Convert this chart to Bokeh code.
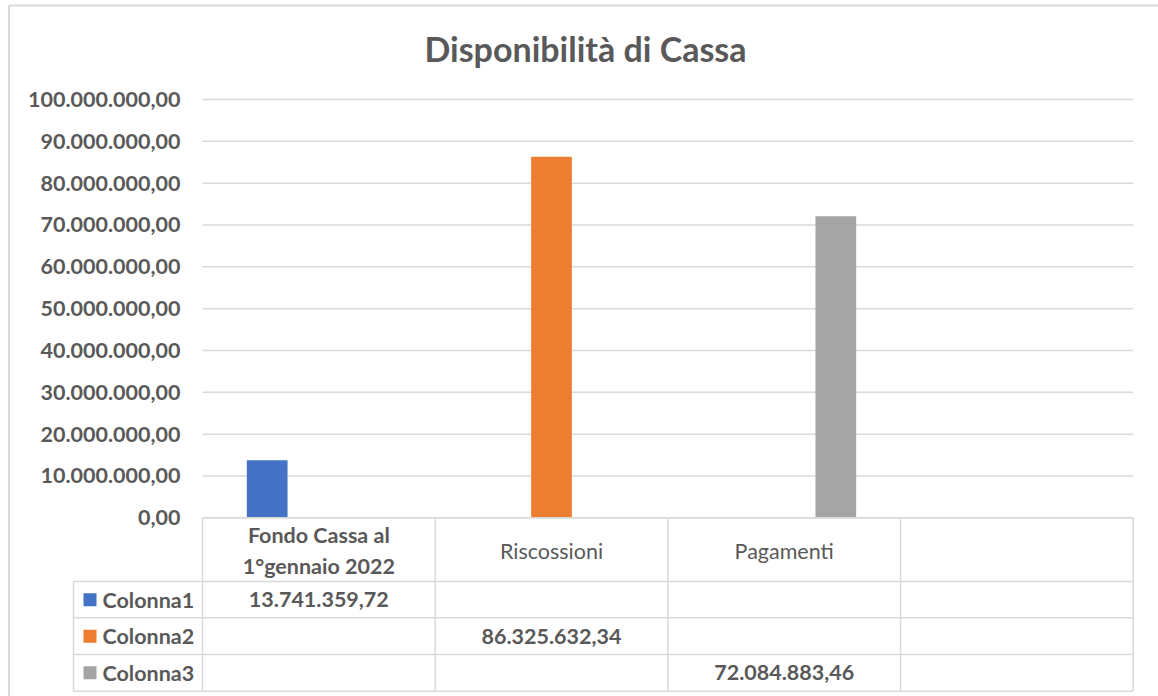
from bokeh.plotting import figure
from bokeh.models import Range1d, LinearAxis, FixedTicker, CustomJSTickFormatter, ColumnDataSource
from bokeh.core.properties import value
from bokeh.transform import dodge
from bokeh.embed import file_html
from bokeh.resources import INLINE

# ---------------- data ----------------
title_text = "Disponibilità di Cassa"
categories = ["Fondo Cassa al\n1°gennaio 2022", "Riscossioni", "Pagamenti", ""]
category_weights = ["bold", "normal", "normal", "normal"]
series_names = ["Colonna1", "Colonna2", "Colonna3"]
series_colors = ["#4472C4", "#ED7D31", "#A5A5A5"]
colonna1 = [13741359.72, None, None, None]
colonna2 = [None, 86325632.34, None, None]
colonna3 = [None, None, 72084883.46, None]
y_ticks = [0, 10e6, 20e6, 30e6, 40e6, 50e6, 60e6, 70e6, 80e6, 90e6, 100e6]

series_values = [colonna1, colonna2, colonna3]

# ---------------- layout constants (pixels) ----------------
W, H = 1158, 696
CAT_PX = 232.675          # width of one category column
X0_PX = 202.0             # canvas x of first category's left edge
Y0_PX = 517.3             # canvas y of value 0
PX_PER_VAL = 4.183e-6     # pixels per euro
LEG_LEFT = (73.0 - X0_PX) / CAT_PX   # legend column left edge in category units

TEXT = "#595959"
GRID = "#D9D9D9"
FONT = value("Lato")
FS = "21.5px"

def it_fmt(v):
    s = f"{v:,.2f}"
    return s.replace(",", "X").replace(".", ",").replace("X", ".")

p = figure(width=W, height=H,
           x_range=Range1d(-X0_PX / CAT_PX, (W - X0_PX) / CAT_PX),
           y_range=Range1d(-(H - Y0_PX) / PX_PER_VAL, Y0_PX / PX_PER_VAL),
           x_axis_type=None, y_axis_type=None,
           toolbar_location=None, output_backend="svg", min_border=0)
p.outline_line_color = None
p.background_fill_color = "white"
p.border_fill_color = "white"
p.xgrid.visible = False
p.ygrid.visible = False
p.extra_x_ranges = {"px": Range1d(0, W)}
p.extra_y_ranges = {"px": Range1d(H, 0)}

n_cat = len(categories)

# chart area border (left and top edges)
p.segment(x0=[8.5, 8.5], y0=[5, 5], x1=[8.5, W], y1=[H, 5], line_color=GRID, line_width=2,
          x_range_name="px", y_range_name="px")

# gridlines
p.segment(x0=[0] * len(y_ticks), x1=[n_cat] * len(y_ticks), y0=y_ticks, y1=y_ticks,
          line_color=GRID, line_width=1.5)

# y axis
yax = LinearAxis(fixed_location=0, ticker=FixedTicker(ticks=y_ticks),
                 formatter=CustomJSTickFormatter(code="""
const s = Math.round(tick).toString().replace(/\\B(?=(\\d{3})+(?!\\d))/g, ".");
return s + ",00";
"""))
yax.axis_line_color = None
yax.major_tick_line_color = None
yax.minor_tick_line_color = None
yax.major_tick_in = 0
yax.major_tick_out = 0
yax.major_label_standoff = 22
yax.major_label_text_font = "Lato"
yax.major_label_text_font_style = "bold"
yax.major_label_text_font_size = FS
yax.major_label_text_color = TEXT
p.add_layout(yax, "left")

# bars
offsets = [-0.222, 0.0, 0.222]
idx = [i + 0.5 for i in range(n_cat)]
for name, vals, col, off in zip(series_names, series_values, series_colors, offsets):
    xs = [x for x, v in zip(idx, vals) if v is not None]
    tops = [v for v in vals if v is not None]
    src = ColumnDataSource(dict(x=xs, top=tops))
    p.vbar(x=dodge("x", off), top="top", width=0.175, bottom=0, source=src,
           fill_color=col, line_color=None)

# data table
row_lines = [581.0, 617.3, 654.0, 690.7]   # canvas y of row separators
header_top = Y0_PX
p.segment(x0=[0], x1=[n_cat], y0=[0], y1=[0], line_color=GRID, line_width=1.5)
for yy in row_lines:
    p.segment(x0=[LEG_LEFT], x1=[n_cat], y0=[yy], y1=[yy], line_color=GRID, line_width=1.5,
              y_range_name="px")
p.segment(x0=list(range(n_cat + 1)), x1=list(range(n_cat + 1)),
          y0=[header_top] * (n_cat + 1), y1=[row_lines[-1]] * (n_cat + 1),
          line_color=GRID, line_width=1.5, y_range_name="px")
p.segment(x0=[LEG_LEFT], x1=[LEG_LEFT], y0=[row_lines[0]], y1=[row_lines[-1]],
          line_color=GRID, line_width=1.5, y_range_name="px")

# header texts
hsrc = ColumnDataSource(dict(x=idx, y=[(header_top + row_lines[0]) / 2 + 1] * n_cat,
                             t=categories, w=category_weights))
p.text(x="x", y="y", text="t", source=hsrc, y_range_name="px",
       text_font=FONT, text_font_style="w", text_font_size=FS,
       text_color=TEXT, text_align="center", text_baseline="middle", text_line_height=1.2)

# row legend and values
row_centers = [(row_lines[i] + row_lines[i + 1]) / 2 for i in range(3)]
leg_x_sq = LEG_LEFT + 16.5 / CAT_PX
leg_x_txt = LEG_LEFT + 29.0 / CAT_PX
p.scatter(x=[leg_x_sq] * 3, y=row_centers, marker="square", size=13,
          fill_color=series_colors, line_color=None, y_range_name="px")
p.text(x=[leg_x_txt] * 3, y=row_centers, text=series_names, y_range_name="px",
       text_font=FONT, text_font_style="bold", text_font_size=FS,
       text_color=TEXT, text_align="left", text_baseline="middle")
vx, vy, vt = [], [], []
for r, vals in enumerate(series_values):
    for c, v in enumerate(vals):
        if v is not None:
            vx.append(idx[c]); vy.append(row_centers[r]); vt.append(it_fmt(v))
p.text(x=vx, y=vy, text=vt, y_range_name="px",
       text_font=FONT, text_font_style="bold", text_font_size=FS,
       text_color=TEXT, text_align="center", text_baseline="middle")

# title
p.text(x=[585], y=[48], text=[title_text], x_range_name="px", y_range_name="px",
       text_font=FONT, text_font_style="bold", text_font_size="34px",
       text_color=TEXT, text_align="center", text_baseline="middle")

open("out.html", "w").write(file_html(p, INLINE))
